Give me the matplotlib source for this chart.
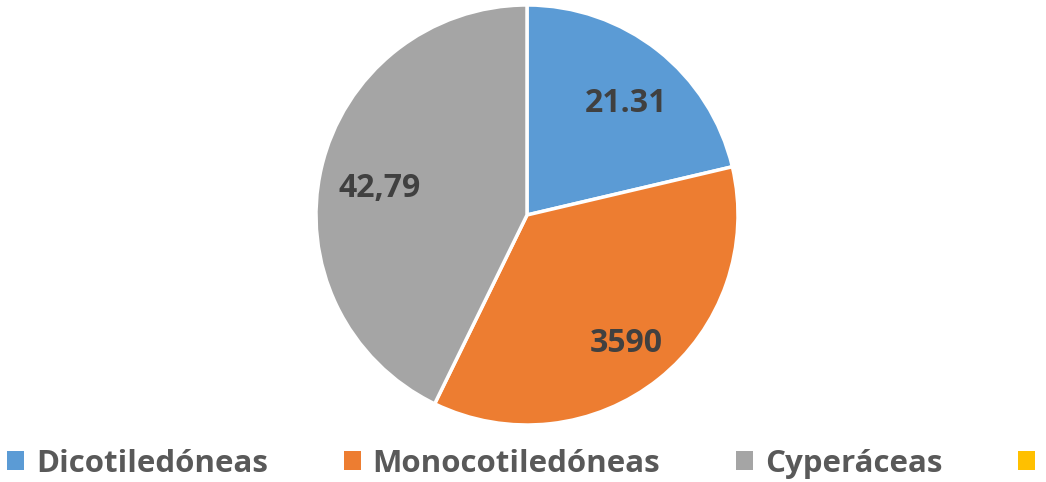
import matplotlib
matplotlib.use('Agg')
import matplotlib.pyplot as plt
from matplotlib.patches import Patch
import numpy as np

# Datos del gráfico
categorias = ['Dicotiledóneas', 'Monocotiledóneas', 'Cyperáceas', '']
valores = [21.31, 35.90, 42.79, 0.0]
etiquetas = ['21.31', '3590', '42,79', '']
colores = ['#5B9BD5', '#ED7D31', '#A5A5A5', '#FFC000']

plt.rcParams['font.family'] = ['Open Sans', 'DejaVu Sans']

fig = plt.figure(figsize=(10.46, 4.82), dpi=100)
ax = fig.add_axes([316 / 1046, 57 / 482, 422 / 1046, 420 / 482])

# Solo se dibujan las porciones con valor > 0
vals = [v for v in valores if v > 0]
wedges, _ = ax.pie(vals, colors=colores[:len(vals)], startangle=90, counterclock=False,
                   wedgeprops=dict(edgecolor='white', linewidth=2.5))
for w in wedges:
    w.set_clip_on(False)

# Etiquetas de datos dentro de cada porción
for w, txt in zip(wedges, etiquetas):
    ang = np.deg2rad((w.theta1 + w.theta2) / 2)
    ax.text(0.73 * np.cos(ang) + 0.015, 0.73 * np.sin(ang) - 0.04, txt, ha='center', va='center',
            fontsize=23, fontweight='bold', color='#404040')

ax.set_xlim(-1, 1)
ax.set_ylim(-1, 1)
ax.set_aspect('auto')

handles = [Patch(facecolor=c, edgecolor='none') for c in colores]
leg = fig.legend(handles, categorias, loc='lower center', bbox_to_anchor=(0.504, -0.052),
                 ncol=4, frameon=False, fontsize=22.5, handlelength=0.55, handleheight=0.55,
                 handletextpad=0.38, columnspacing=2.42)
for t in leg.get_texts():
    t.set_color('#595959')
    t.set_fontweight('bold')

fig.savefig('out.png', dpi=100)
